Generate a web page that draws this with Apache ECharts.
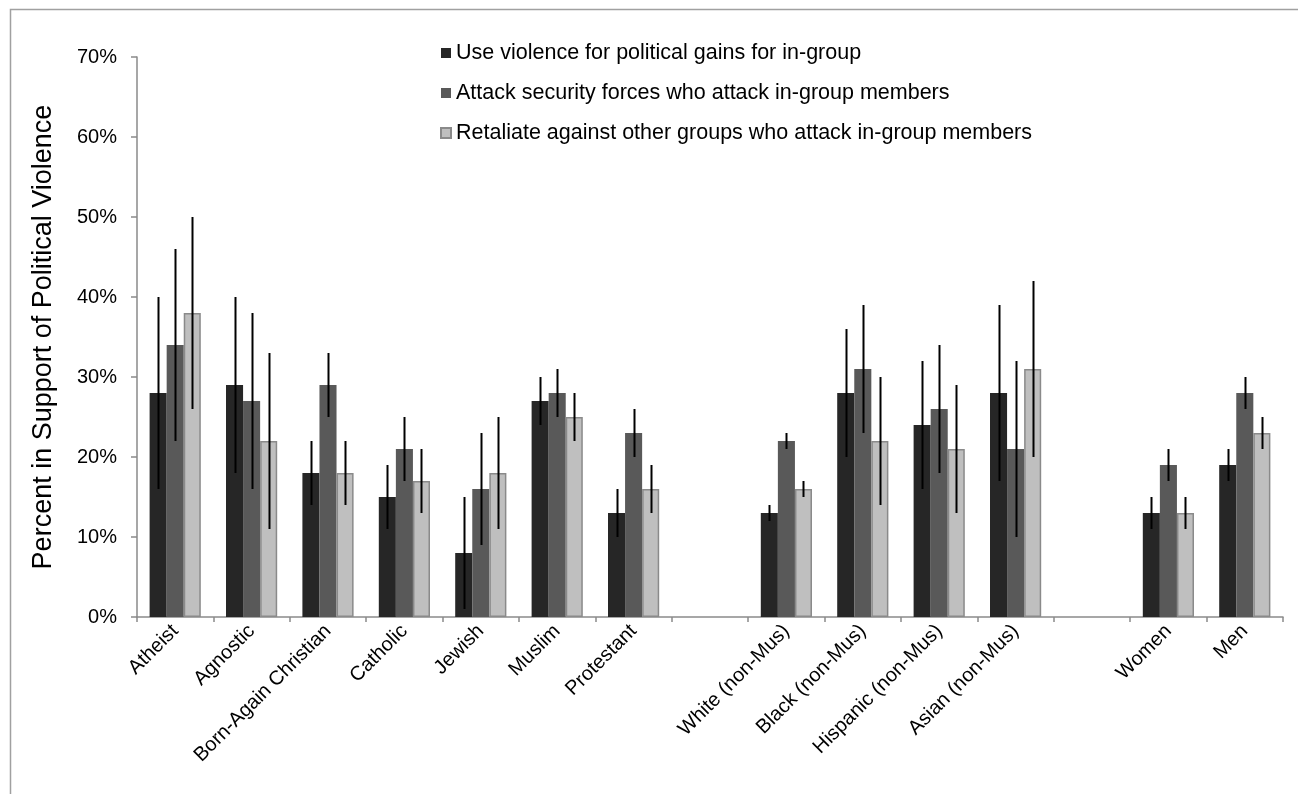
<!DOCTYPE html>
<html>
<head>
<meta charset="utf-8">
<title>Support for Political Violence by Group</title>
<script src="https://cdn.jsdelivr.net/npm/echarts@6/dist/echarts.min.js"></script>
<style>
  html, body { margin: 0; padding: 0; background: #ffffff; }
  #chart { width: 1298px; height: 794px; }
</style>
</head>
<body>
<div id="chart"></div>
<script>
// Group labels; empty strings are spacer slots between the three blocks
const categories = [
  'Atheist', 'Agnostic', 'Born-Again Christian', 'Catholic', 'Jewish', 'Muslim', 'Protestant',
  '',
  'White (non-Mus)', 'Black (non-Mus)', 'Hispanic (non-Mus)', 'Asian (non-Mus)',
  '',
  'Women', 'Men'
];

const seriesNames = [
  'Use violence for political gains for in-group',
  'Attack security forces who attack in-group members',
  'Retaliate against other groups who attack in-group members'
];

// Percent support (point estimates)
const useViolence = [28, 29, 18, 15, 8, 27, 13, '-', 13, 28, 24, 28, '-', 13, 19];
const attackSecurity = [34, 27, 29, 21, 16, 28, 23, '-', 22, 31, 26, 21, '-', 19, 28];
const retaliate = [38, 22, 18, 17, 18, 25, 16, '-', 16, 22, 21, 31, '-', 13, 23];

// Confidence interval bounds [low, high]
const useViolenceCI = [[16, 40], [18, 40], [14, 22], [11, 19], [1, 15], [24, 30], [10, 16], null,
  [12, 14], [20, 36], [16, 32], [17, 39], null, [11, 15], [17, 21]];
const attackSecurityCI = [[22, 46], [16, 38], [25, 33], [17, 25], [9, 23], [25, 31], [20, 26], null,
  [21, 23], [23, 39], [18, 34], [10, 32], null, [17, 21], [26, 30]];
const retaliateCI = [[26, 50], [11, 33], [14, 22], [13, 21], [11, 25], [22, 28], [13, 19], null,
  [15, 17], [14, 30], [13, 29], [20, 42], null, [11, 15], [21, 25]];

const yTicks = { min: 0, max: 70, interval: 10 };

const values = [useViolence, attackSecurity, retaliate];
const intervals = [useViolenceCI, attackSecurityCI, retaliateCI];
const colors = ['#262626', '#595959', '#bfbfbf'];
const borders = ['#262626', '#595959', '#8a8a8a'];
const CATEGORY_GAP = 0.33;
const FONT = 'Liberation Sans, Arial, sans-serif';

const barSeries = values.map((vals, i) => ({
  name: seriesNames[i],
  type: 'bar',
  data: vals,
  barGap: '0%',
  barCategoryGap: (CATEGORY_GAP * 100) + '%',
  itemStyle: { color: colors[i], borderColor: borders[i], borderWidth: i === 2 ? 1.5 : 0 },
  emphasis: { disabled: true },
  z: 2
}));

// Error bars drawn as plain vertical lines centred on each bar
const errorSeries = intervals.map((ci, i) => ({
  type: 'custom',
  name: seriesNames[i] + ' CI',
  data: ci.map((r, k) => r ? [k, r[0], r[1]] : [k, '-', '-']),
  encode: { x: 0, y: [1, 2] },
  z: 5,
  silent: true,
  renderItem: function (params, api) {
    const lo = api.value(1), hi = api.value(2);
    if (isNaN(lo) || isNaN(hi)) return null;
    const cat = api.value(0);
    const band = api.size([1, 0])[0];
    const barW = band * (1 - CATEGORY_GAP) / 3;
    const pLo = api.coord([cat, lo]);
    const pHi = api.coord([cat, hi]);
    const x = Math.round(pLo[0] + (i - 1) * barW) + 0.5;
    return {
      type: 'line',
      shape: { x1: x, y1: pLo[1], x2: x, y2: pHi[1] },
      style: { stroke: '#000000', lineWidth: 2 }
    };
  }
}));

const chart = echarts.init(document.getElementById('chart'), null, { renderer: 'canvas' });

chart.setOption({
  animation: false,
  backgroundColor: '#ffffff',
  textStyle: { fontFamily: FONT, color: '#000' },
  graphic: [{
    type: 'rect',
    left: 8, top: 7,
    shape: { width: 1400, height: 900 },
    style: { fill: 'none', stroke: '#a0a0a0', lineWidth: 1.5 },
    silent: true
  }],
  grid: { left: 137, right: 15, top: 57, bottom: 177, containLabel: false },
  legend: {
    orient: 'vertical',
    left: 440,
    top: 41,
    padding: 0,
    itemWidth: 10,
    itemHeight: 10,
    itemGap: 16,
    icon: 'rect',
    data: seriesNames,
    textStyle: { fontSize: 21.5, color: '#000', fontFamily: FONT, lineHeight: 24 },
    selectedMode: false
  },
  xAxis: {
    type: 'category',
    data: categories,
    axisLine: { lineStyle: { color: '#8a8a8a', width: 1.5 } },
    axisTick: { show: true, alignWithLabel: false, length: 5, lineStyle: { color: '#8a8a8a', width: 1.5 } },
    axisLabel: { rotate: 45, interval: 0, fontSize: 20, color: '#000', margin: 11 },
    splitLine: { show: false }
  },
  yAxis: {
    type: 'value',
    min: yTicks.min,
    max: yTicks.max,
    interval: yTicks.interval,
    name: 'Percent in Support of Political Violence',
    nameLocation: 'middle',
    nameGap: 80,
    nameRotate: 90,
    nameTextStyle: { fontSize: 27, color: '#000' },
    axisLine: { show: true, lineStyle: { color: '#8a8a8a', width: 1.5 } },
    axisTick: { show: true, length: 6, lineStyle: { color: '#8a8a8a', width: 1.5 } },
    axisLabel: { formatter: '{value}%', fontSize: 20, color: '#000', margin: 20 },
    splitLine: { show: false }
  },
  series: barSeries.concat(errorSeries)
});
</script>
</body>
</html>
